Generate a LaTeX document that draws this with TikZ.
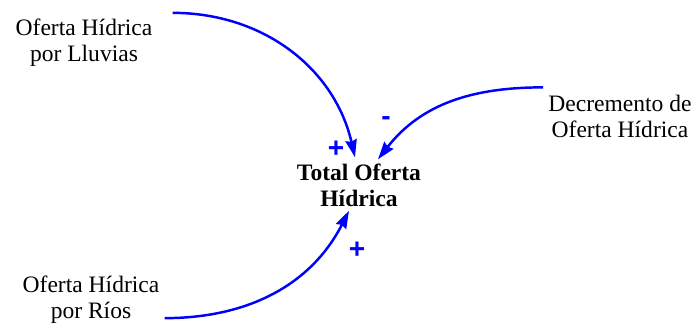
\documentclass[tikz,border=0pt]{standalone}
\usepackage{fontspec}
\setmainfont{Liberation Serif}
\newfontfamily\signfont{Liberation Sans}
\definecolor{cldblue}{RGB}{0,0,255}
\usetikzlibrary{arrows.meta,calc}

\begin{document}
\begin{tikzpicture}[x=0.02cm,y=0.02cm,>={Stealth[length=10pt,width=6.5pt,inset=1pt]},
  varbox/.style={align=center,inner sep=0pt,font=\fontsize{13.4}{14.8}\selectfont},
  link/.style={->,cldblue,line width=1.4pt},
  signo/.style={cldblue,anchor=base,font=\signfont\fontsize{16}{16}\selectfont\bfseries}]
  \useasboundingbox (0,0) rectangle (697,325);
  %% Variables
  \node[varbox] (lluvias) at (84,282) {Oferta Hídrica\\por Lluvias};
  \node[varbox] (decremento) at (620,209) {Decremento de\\Oferta Hídrica};
  \node[varbox,font=\fontsize{13.4}{14.8}\selectfont\bfseries] (total) at (359,140) {Total Oferta\\Hídrica};
  \node[varbox] (rios) at (91,25) {Oferta Hídrica\\por Ríos};
  %% Causal links
  \draw[link] ($(lluvias.north east)+(20,6)$) to[out=0,in=103] ($(total.north)+(-4,6)$);
  \draw[link] ($(decremento.north west)+(-5,7)$) to[out=180,in=52] ($(total.north)+(19,4)$);
  \draw[link] ($(rios.south east)+(5,6)$) to[out=0,in=-117] ($(total.south)+(-10,-4)$);
  %% Polarities
  \node[signo] (signA) at (336,167) {+};
  \node[signo] (signB) at (386,199) {-};
  \node[signo] (signC) at (357,67) {+};
\end{tikzpicture}
\end{document}
